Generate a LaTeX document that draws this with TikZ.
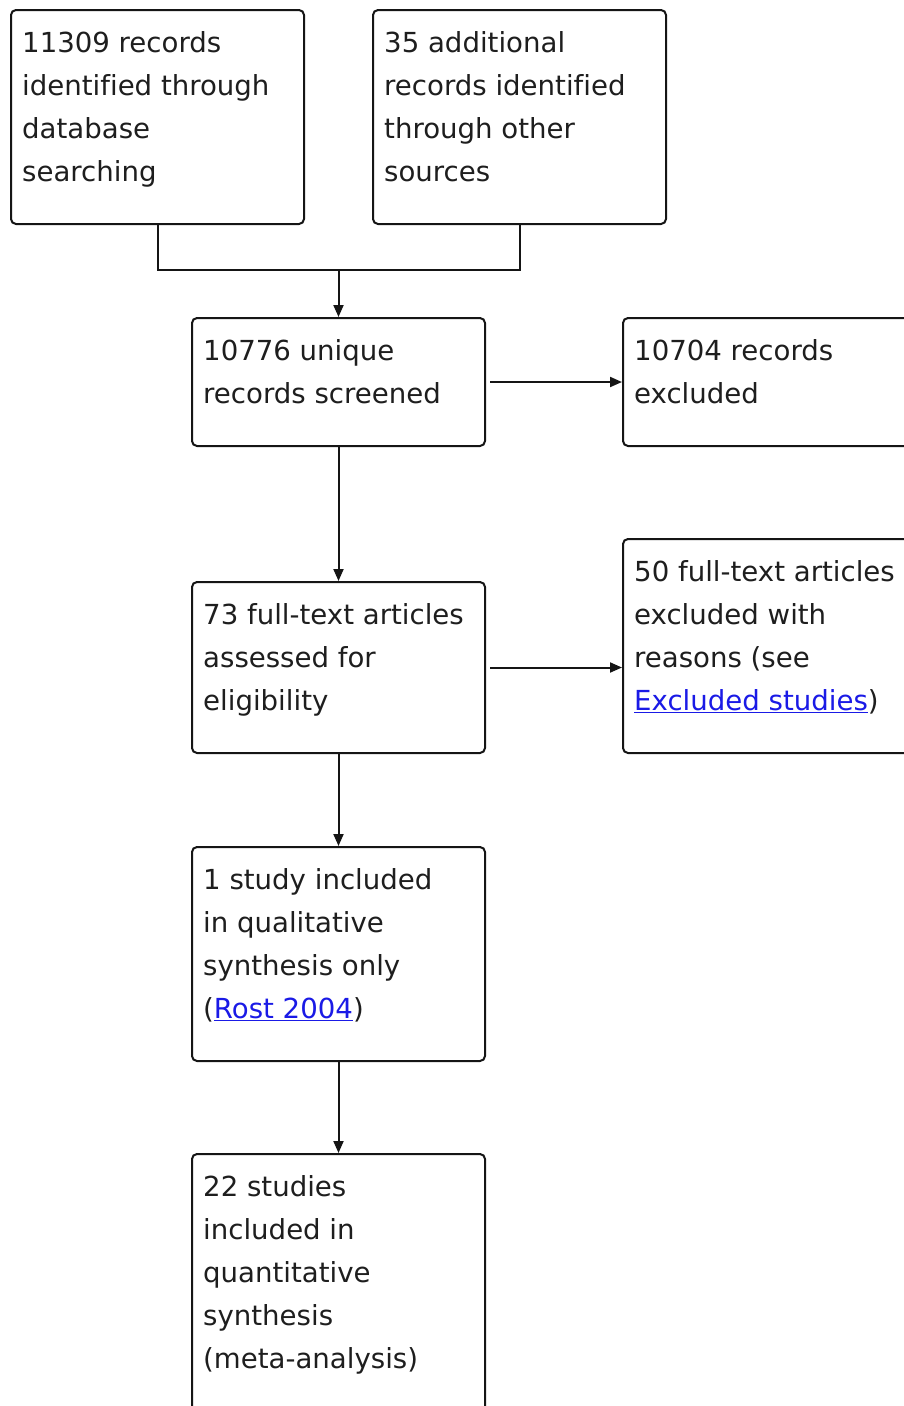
\documentclass[tikz,border=0pt]{standalone}
\usepackage{fontspec}
\setmainfont{DejaVu Sans}[Ligatures={NoCommon}]
\usetikzlibrary{arrows.meta}
\definecolor{ln}{HTML}{151515}
\definecolor{tx}{HTML}{1E1E1E}
\definecolor{lk}{HTML}{1A1AE6}
\newcommand{\lnk}[1]{{\color{lk}\underline{#1}}}
\tikzset{
  box/.style={draw=ln, line width=2pt, rounded corners=5pt, fill=white, anchor=north west, inner sep=0pt, minimum width=293pt},
  txt/.style={anchor=base west, inner sep=0pt, text=tx},
  conn/.style={draw=ln, line width=2pt},
  arr/.style={conn, -{Triangle[length=12pt,width=10pt]}}
}
\newcommand{\bt}[1]{\parbox[t]{300pt}{\fontsize{27.6}{43}\selectfont\raggedright #1}}
\begin{document}
\begin{tikzpicture}[x=1pt,y=-1pt]
\useasboundingbox (0,0) rectangle (903,1406);
% boxes
\node[box, minimum height=214pt] (b1) at (10,9) {};
\node[box, minimum height=214pt] (b2) at (372,9) {};
\node[box, minimum height=128pt] (b3) at (191,317) {};
\node[box, minimum height=128pt] (b4) at (622,317) {};
\node[box, minimum height=171pt] (b5) at (191,581) {};
\node[box, minimum height=214pt] (b6) at (622,538) {};
\node[box, minimum height=214pt] (b7) at (191,846) {};
\node[box, minimum height=280pt] (b8) at (191,1153) {};
% texts
\node[txt] (t1) at (22,52) {\bt{11309 records\\identified through\\database\\searching}};
\node[txt] (t2) at (384,52) {\bt{35 additional\\records identified\\through other\\sources}};
\node[txt] (t3) at (203,360) {\bt{10776 unique\\records screened}};
\node[txt] (t4) at (634,360) {\bt{10704 records\\excluded}};
\node[txt] (t5) at (203,624) {\bt{73 full-text articles\\assessed for\\eligibility}};
\node[txt] (t6) at (634,581) {\bt{50 full-text articles\\excluded with\\reasons (see\\\lnk{Excluded studies})}};
\node[txt] (t7) at (203,889) {\bt{1 study included\\in qualitative\\synthesis only\\(\lnk{Rost 2004})}};
\node[txt] (t8) at (203,1196) {\bt{22 studies\\included in\\quantitative\\synthesis\\(meta-analysis)}};
% connectors
\coordinate (j) at (b3.north |- 0,270);
\draw[conn] (b1.south) |- (b2.south |- j) -- (b2.south);
\draw[arr] (j) -- (b3.north);
\draw[arr] ([xshift=4pt]b3.east) -- (b4.west);
\draw[arr] (b3.south) -- (b5.north);
\draw[arr] ([xshift=4pt]b5.east) -- (b5.east -| b6.west);
\draw[arr] (b5.south) -- (b7.north);
\draw[arr] (b7.south) -- (b8.north);
\end{tikzpicture}
\end{document}
